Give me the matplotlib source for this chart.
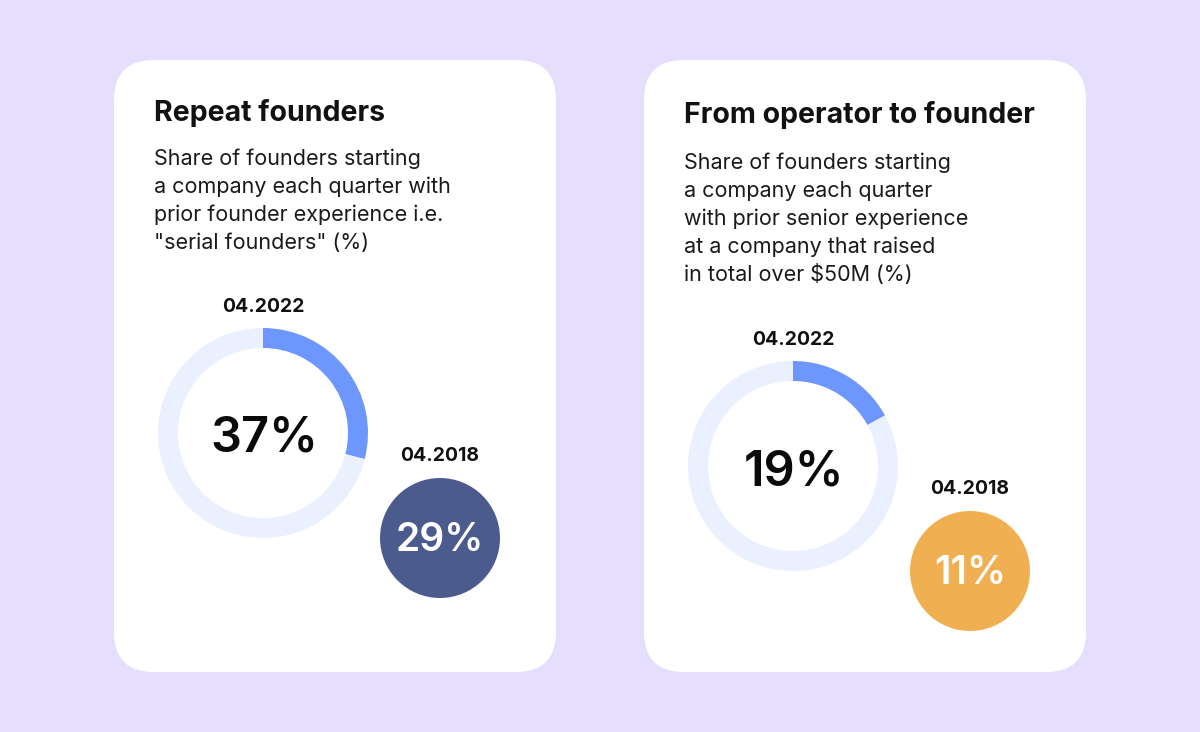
import matplotlib
matplotlib.use("Agg")
import matplotlib.pyplot as plt
from matplotlib.patches import FancyBboxPatch, Circle

plt.rcParams['font.family'] = ['Inter', 'DejaVu Sans']

# data
titles = ["Repeat founders", "From operator to founder"]
subtitles = [
    ["Share of founders starting", "a company each quarter with",
     "prior founder experience i.e.", "\"serial founders\" (%)"],
    ["Share of founders starting", "a company each quarter",
     "with prior senior experience", "at a company that raised",
     "in total over $50M (%)"],
]
labels_now = ["04.2022", "04.2022"]
labels_then = ["04.2018", "04.2018"]
share_now = [37, 19]
share_then = [29, 11]
# filled part of the ring as drawn in the picture
arc_drawn = [29, 17]
then_colors = ["#4C5B8D", "#F0B052"]

W, H = 1200, 732
BG = "#E6DEFD"
ARC = "#6E97FD"
TRACK = "#EBF0FE"

fig = plt.figure(figsize=(12, 7.32), dpi=100)
fig.patch.set_facecolor(BG)
ax = fig.add_axes([0, 0, 1, 1])


def Y(y):
    # pixel rows from top -> axis coords
    return H - y


card_x = [114, 644]
title_base = [121, 123]
body_base = [165, 169]
donut_dy = [0, 33]

for i in range(2):
    x0 = card_x[i]
    dy = donut_dy[i]
    card = FancyBboxPatch((x0 + 40, Y(672) + 40), 442 - 80, 612 - 80,
                          boxstyle="round,pad=40", fc="white", ec="none", zorder=1)
    ax.add_patch(card)

    ax.text(x0 + 40, Y(title_base[i]), titles[i], fontsize=20.5, fontweight="bold",
            color="#111111", va="baseline", ha="left", zorder=3)
    for k, line in enumerate(subtitles[i]):
        ax.text(x0 + 40, Y(body_base[i] + 28 * k), line, fontsize=15.5,
                color="#1a1a1a", va="baseline", ha="left", zorder=3)

    cx, cy = x0 + 149, Y(433 + dy)
    v = arc_drawn[i]
    ax.pie([v, 100 - v], colors=[ARC, TRACK], startangle=90, counterclock=False,
           center=(cx, cy), radius=105, wedgeprops=dict(width=20, linewidth=0, zorder=2))
    ax.text(cx + 1, Y(452 + dy), f"{share_now[i]}%", fontsize=35, fontweight="semibold",
            color="#0a0a0a", ha="center", va="baseline", zorder=3)
    ax.text(cx, Y(312 + dy), labels_now[i], fontsize=14, fontweight="bold",
            color="#111111", ha="center", va="baseline", zorder=3)

    sx, sy = x0 + 326, Y(538 + dy)
    ax.add_patch(Circle((sx, sy), 60, fc=then_colors[i], ec="none", zorder=2))
    ax.text(sx, Y(551 + dy), f"{share_then[i]}%", fontsize=28, fontweight="semibold",
            color="white", ha="center", va="baseline", zorder=3)
    ax.text(sx, Y(461 + dy), labels_then[i], fontsize=14, fontweight="bold",
            color="#111111", ha="center", va="baseline", zorder=3)

ax.set_xlim(0, W)
ax.set_ylim(0, H)
ax.set_aspect("equal")
ax.axis("off")

fig.savefig("out.png", dpi=100, facecolor=BG)
